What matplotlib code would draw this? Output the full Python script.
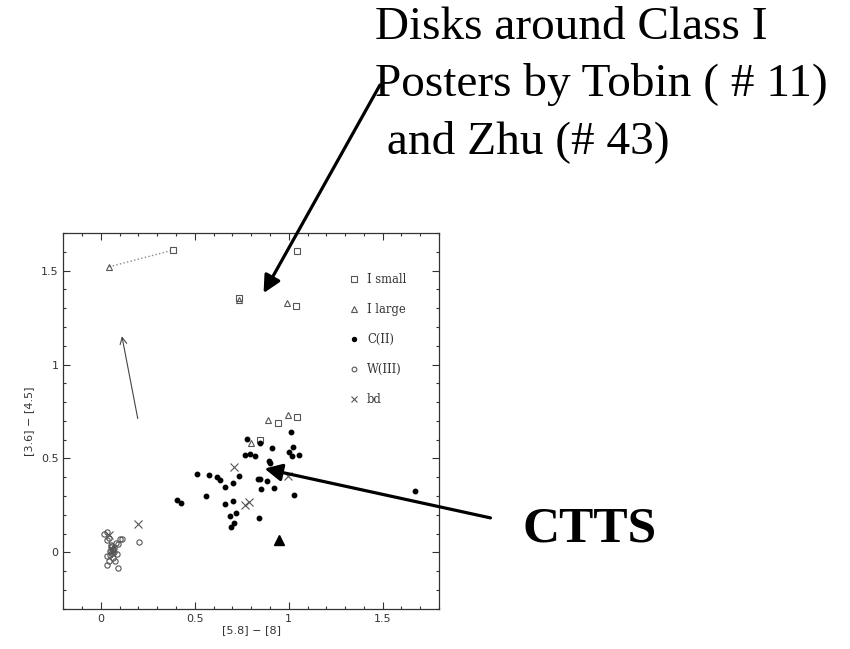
import matplotlib
matplotlib.use("Agg")
import matplotlib.pyplot as plt
from matplotlib.ticker import MultipleLocator

# %%
# colour-colour data: x = [5.8]-[8], y = [3.6]-[4.5]

small_x = [0.384, 1.044, 0.733, 1.039, 0.943, 1.044, 0.845]
small_y = [1.609, 1.606, 1.355, 1.311, 0.689, 0.719, 0.599]

large_x = [0.044, 0.733, 0.993, 0.891, 0.998, 0.797]
large_y = [1.520, 1.343, 1.329, 0.707, 0.732, 0.581]

c2_x = [0.404, 0.425, 0.512, 0.573, 0.616, 0.635, 0.559, 0.662, 0.662, 0.705,
        0.733, 0.705, 0.721, 0.689, 0.706, 0.692, 0.769, 0.794, 0.822, 0.779,
        0.845, 0.909, 0.897, 0.899, 0.834, 0.847, 0.886, 0.851, 0.922, 0.840,
        1.011, 1.020, 1.004, 1.016, 1.053, 1.028, 1.673]
c2_y = [0.277, 0.263, 0.416, 0.410, 0.403, 0.385, 0.298, 0.348, 0.259, 0.369,
        0.405, 0.275, 0.211, 0.195, 0.158, 0.135, 0.517, 0.522, 0.515, 0.606,
        0.583, 0.554, 0.487, 0.476, 0.391, 0.391, 0.378, 0.339, 0.341, 0.181,
        0.639, 0.563, 0.533, 0.512, 0.517, 0.304, 0.329]

w3_x = [0.014, 0.030, 0.035, 0.044, 0.103, 0.078, 0.053, 0.071, 0.050, 0.085,
        0.035, 0.062, 0.044, 0.075, 0.035, 0.092, 0.110, 0.091, 0.205, 0.058,
        0.065, 0.055, 0.060, 0.068, 0.052, 0.048, 0.066]
w3_y = [0.100, 0.109, 0.068, 0.077, 0.073, 0.050, 0.041, 0.023, 0.005, -0.009,
        -0.021, -0.030, -0.048, -0.044, -0.066, -0.083, 0.071, 0.046, 0.053, 0.035,
        0.020, 0.010, -0.005, 0.000, 0.028, -0.015, 0.012]

bd_x = [0.041, 0.199, 0.710, 0.765, 0.786, 0.998]
bd_y = [0.091, 0.151, 0.456, 0.252, 0.266, 0.409]

# single highlighted source (big filled triangle)
special_x = [0.950]
special_y = [0.064]

# same object in two apertures, joined by a dotted line
pair_x = [0.044, 0.384]
pair_y = [1.520, 1.609]

# reddening vector
redden_start = (0.199, 0.698)
redden_end = (0.109, 1.165)

# %%
fig = plt.figure(figsize=(8.5, 6.49), dpi=100)
ax = fig.add_axes([0.0745, 0.062, 0.442, 0.579])

grey = "#555555"
ax.plot(pair_x, pair_y, ls=":", color="#888888", lw=1.0, zorder=1)
ax.plot(small_x, small_y, "s", ms=4.4, mfc="none", mec=grey, mew=0.8, ls="none", label="I small")
ax.plot(large_x, large_y, "^", ms=5.0, mfc="none", mec=grey, mew=0.8, ls="none", label="I large")
ax.plot(c2_x, c2_y, "o", ms=3.2, mfc="black", mec="black", ls="none", label="C(II)")
ax.plot(w3_x, w3_y, "o", ms=3.8, mfc="none", mec=grey, mew=0.8, ls="none", label="W(III)")
ax.plot(bd_x, bd_y, "x", ms=5.2, color=grey, mew=0.8, ls="none", label="bd")
ax.plot(special_x, special_y, "^", ms=7.5, color="black", ls="none")

ax.annotate("", xy=redden_end, xytext=redden_start,
            arrowprops=dict(arrowstyle="->", color="#444444", lw=0.8, mutation_scale=12))

ax.set_xlim(-0.2, 1.8)
ax.set_ylim(-0.3, 1.7)
ax.xaxis.set_minor_locator(MultipleLocator(0.1))
ax.yaxis.set_minor_locator(MultipleLocator(0.1))
ax.set_xticks([0, 0.5, 1, 1.5])
ax.set_xticklabels(["0", "0.5", "1", "1.5"])
ax.set_yticks([0, 0.5, 1, 1.5])
ax.set_yticklabels(["0", "0.5", "1", "1.5"])
ax.tick_params(which="both", direction="in", top=True, right=True,
               labelsize=8, colors="#333333", width=0.8)
ax.tick_params(which="major", length=5)
ax.tick_params(which="minor", length=2.5)
for s in ax.spines.values():
    s.set_color("#333333")
    s.set_linewidth(0.9)
ax.set_xlabel("[5.8] \u2212 [8]", fontsize=8, color="#333333", labelpad=1)
ax.set_ylabel("[3.6] \u2212 [4.5]", fontsize=8, color="#333333", labelpad=5)

ax.legend(loc="upper left", bbox_to_anchor=(0.738, 0.92), frameon=False,
          prop={"family": "DejaVu Serif", "size": 8.3},
          handlelength=0.6, handletextpad=0.8, labelspacing=1.46,
          markerscale=0.9, labelcolor="#333333")

# %%
# poster annotations in Times-like serif
serif = ["Liberation Serif", "DejaVu Serif"]
fig.text(0.441, 0.990, "Disks around Class I\nPosters by Tobin ( # 11)\n and Zhu (# 43)",
         fontsize=34, family=serif, ha="left", va="top", linespacing=1.43)
fig.text(0.615, 0.166, "CTTS", fontsize=37, family=serif, weight="bold",
         ha="left", va="baseline")

arrow_kw = dict(arrowstyle="-|>", color="black", lw=2.3, mutation_scale=26, shrinkA=0, shrinkB=0)
ax.annotate("", xy=(0.866, 1.380), xycoords="data",
            xytext=(0.447, 0.869), textcoords="figure fraction", arrowprops=arrow_kw)
ax.annotate("", xy=(0.871, 0.446), xycoords="data",
            xytext=(0.577, 0.202), textcoords="figure fraction", arrowprops=arrow_kw)

plt.savefig("out.png", dpi=100)
